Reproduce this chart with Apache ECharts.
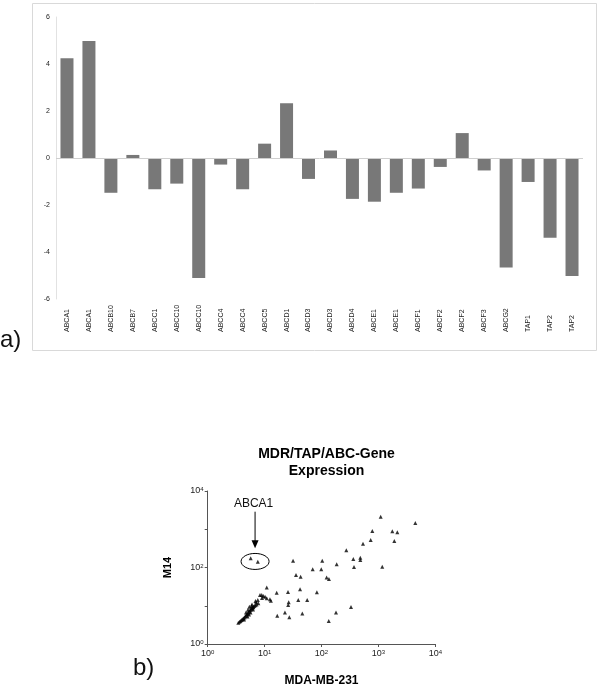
<!DOCTYPE html>
<html>
<head>
<meta charset="utf-8">
<script src="https://cdn.jsdelivr.net/npm/echarts@6/dist/echarts.min.js"></script>
<style>
  html, body { margin: 0; padding: 0; background: #fff; }
  #chart { width: 600px; height: 692px; }
</style>
</head>
<body>
<div id="chart"></div>
<script>
// a) bar chart
const genes = ['ABCA1', 'ABCA1', 'ABCB10', 'ABCB7', 'ABCC1', 'ABCC10', 'ABCC10', 'ABCC4', 'ABCC4', 'ABCC5', 'ABCD1', 'ABCD3',
  'ABCD3', 'ABCD4', 'ABCE1', 'ABCE1', 'ABCF1', 'ABCF2', 'ABCF2', 'ABCF3', 'ABCG2', 'TAP1', 'TAP2', 'TAP2']
const foldChange = [4.24, 4.98, -1.48, 0.13, -1.33, -1.09, -5.11, -0.28, -1.33, 0.61, 2.33, -0.89,
  0.32, -1.74, -1.86, -1.48, -1.30, -0.38, 1.06, -0.53, -4.66, -1.02, -3.39, -5.02]

// b) scatter, MDA-MB-231 vs M14
const abca1X = [5.7, 7.6]
const abca1Y = [174, 142]
const mdaValues = [31.6, 103, 70, 99, 35.6, 43, 123, 135, 10.9, 42, 16.3, 25.8, 83, 39, 56, 26.5, 26, 134, 16.7, 22.8, 27.2, 46,
  1097, 4450, 781, 1755, 2148, 732, 1903, 536, 273, 362, 481, 481, 185, 373, 1170, 330, 180,
  8.9, 9.5, 10.2, 8.3, 12.4, 12.9, 7.6, 7.1, 5.9, 6.3, 5.4,
  3.45, 3.62, 3.77, 3.93, 4.09, 4.26, 4.43, 4.58, 4.75, 4.91, 5.07, 5.21, 5.38, 5.54, 5.72, 5.91, 6.10, 6.33, 6.56, 6.87, 7.20,
  4.35, 5.01, 5.65, 5.32, 6.25, 5.11, 6.01, 4.71, 7.75, 9.0, 6.92, 10.9]
const m14Values = [151, 151, 90, 90, 64, 57, 55, 50, 30, 27, 22, 23, 22.5, 14.1, 14.1, 12.3, 10.5, 4.0, 5.5, 6.7, 5.0, 6.3,
  2130, 1457, 900, 884, 832, 524, 493, 419, 282, 167, 180, 157, 121, 103, 105, 9.3, 6.7,
  19.1, 18.0, 17.2, 19.1, 14.7, 13.6, 14.1, 12.3, 9.9, 9.1, 9.4,
  3.61, 3.80, 3.99, 4.24, 4.42, 4.73, 4.93, 5.30, 5.56, 5.98, 6.27, 6.74, 7.07, 7.60, 7.98, 8.47, 8.84, 9.39, 9.85, 10.3, 10.8,
  4.37, 5.24, 6.66, 5.91, 7.98, 7.88, 10.8, 6.66, 11.6, 15.9, 13.3, 15.7]
const logTicks = [1, 10, 100, 1000, 10000]

const font = 'Liberation Sans, Arial, sans-serif'
const points = abca1X.map((x, i) => [x, abca1Y[i]])
  .concat(mdaValues.map((x, i) => [x, m14Values[i]]))

const powLabel = v => '10{s|' + Math.round(Math.log10(v)) + '}'
const powRich = { s: { fontSize: 6, verticalAlign: 'top', lineHeight: 8, fontFamily: font, color: '#222' } }

const chart = echarts.init(document.getElementById('chart'))
chart.setOption({
  animation: false,
  textStyle: { fontFamily: font },
  title: {
    text: 'MDR/TAP/ABC-Gene\nExpression',
    left: 321.5,
    top: 441,
    textAlign: 'center',
    textStyle: { fontSize: 14, fontWeight: 'bold', color: '#000', lineHeight: 17, fontFamily: font }
  },
  grid: [
    { left: 56, top: 17, width: 527, height: 282 },
    { left: 207.7, top: 491, width: 227.6, height: 153 }
  ],
  xAxis: [
    {
      type: 'category',
      gridIndex: 0,
      data: genes,
      axisLine: { show: false },
      axisTick: { show: false },
      axisLabel: {
        rotate: 90,
        align: 'left',
        verticalAlign: 'middle',
        margin: 33,
        fontSize: 7,
        color: '#222',
        interval: 0
      }
    },
    {
      type: 'log',
      gridIndex: 1,
      logBase: 10,
      min: 1,
      max: 10000,
      name: 'MDA-MB-231',
      nameLocation: 'middle',
      nameGap: 31,
      nameTextStyle: { fontSize: 12, fontWeight: 'bold', color: '#000' },
      axisLine: { lineStyle: { color: '#555', width: 1 } },
      axisTick: { length: 3, lineStyle: { color: '#555' } },
      splitLine: { show: false },
      minorTick: { show: false },
      axisLabel: { formatter: powLabel, rich: powRich, fontSize: 9, color: '#222', margin: 5 }
    }
  ],
  yAxis: [
    {
      type: 'value',
      gridIndex: 0,
      min: -6,
      max: 6,
      interval: 2,
      axisLine: { show: true, lineStyle: { color: '#e2e2e2' } },
      axisTick: { show: false },
      splitLine: { show: false },
      axisLabel: { fontSize: 7, color: '#222', margin: 6 }
    },
    {
      type: 'log',
      gridIndex: 1,
      logBase: 10,
      min: 1,
      max: 10000,
      name: 'M14',
      nameLocation: 'middle',
      nameRotate: 90,
      nameGap: 34,
      nameTextStyle: { fontSize: 11, fontWeight: 'bold', color: '#000' },
      axisLine: { show: true, lineStyle: { color: '#555', width: 1 } },
      axisTick: { length: 3, lineStyle: { color: '#555' } },
      splitLine: { show: false },
      axisLabel: {
        formatter: v => (Math.round(Math.log10(v)) % 2 === 0 ? powLabel(v) : ''),
        rich: powRich,
        fontSize: 9,
        color: '#222',
        margin: 4
      }
    }
  ],
  series: [
    {
      type: 'bar',
      xAxisIndex: 0,
      yAxisIndex: 0,
      data: foldChange,
      barWidth: 13,
      itemStyle: { color: '#787878' },
      markLine: {
        silent: true,
        symbol: 'none',
        label: { show: false },
        lineStyle: { color: '#cfcfcf', type: 'solid', width: 1 },
        data: [{ yAxis: 0 }]
      }
    },
    {
      type: 'scatter',
      xAxisIndex: 1,
      yAxisIndex: 1,
      data: points,
      symbol: 'triangle',
      symbolSize: 4,
      itemStyle: { color: '#000' }
    }
  ]
})

// annotations placed from data coordinates of the scatter grid
const toPx = (x, y) => chart.convertToPixel({ gridIndex: 1 }, [x, y])
const ring = toPx(6.8, 144)
const arrowTop = toPx(6.8, 2877)
const arrowTip = toPx(6.8, 318)
const labelPos = toPx(6.4, 4770)

chart.setOption({
  graphic: [
    {
      type: 'rect',
      shape: { x: 32.5, y: 3.5, width: 564, height: 347 },
      style: { fill: 'none', stroke: '#d9d9d9', lineWidth: 1 },
      silent: true
    },
    {
      type: 'text',
      left: 0,
      top: 328,
      style: { text: 'a)', font: '24px ' + font, fill: '#111' }
    },
    {
      type: 'text',
      left: 133,
      top: 656,
      style: { text: 'b)', font: '24px ' + font, fill: '#111' }
    },
    {
      type: 'ellipse',
      shape: { cx: ring[0], cy: ring[1], rx: 14, ry: 8 },
      style: { fill: 'none', stroke: '#000', lineWidth: 1 },
      silent: true
    },
    {
      type: 'line',
      shape: { x1: arrowTop[0], y1: arrowTop[1], x2: arrowTip[0], y2: arrowTip[1] - 6 },
      style: { stroke: '#000', lineWidth: 1 },
      silent: true
    },
    {
      type: 'polygon',
      shape: { points: [[arrowTip[0] - 3.5, arrowTip[1] - 8], [arrowTip[0] + 3.5, arrowTip[1] - 8], [arrowTip[0], arrowTip[1]]] },
      style: { fill: '#000' },
      silent: true
    },
    {
      type: 'text',
      x: labelPos[0],
      y: labelPos[1],
      style: { text: 'ABCA1', font: '12px ' + font, fill: '#111', align: 'center', verticalAlign: 'middle' }
    }
  ]
})
</script>
</body>
</html>
